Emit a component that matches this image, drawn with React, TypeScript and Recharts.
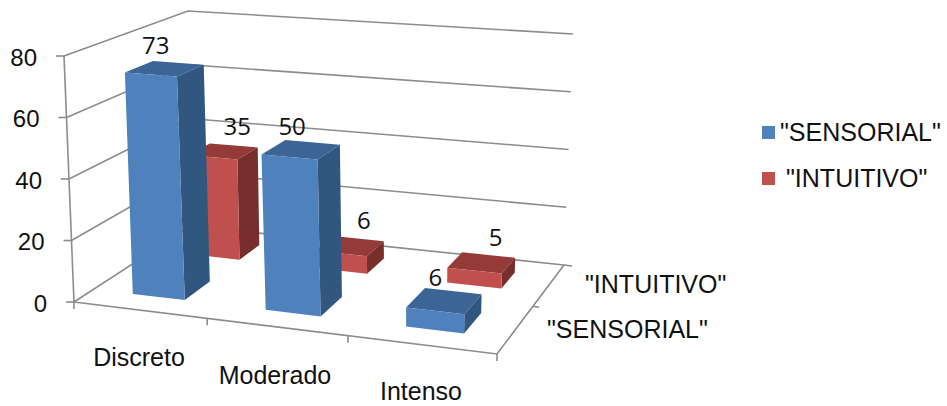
import React from "react";
import {
  Bar,
  BarChart,
  CartesianGrid,
  LabelList,
  Legend,
  XAxis,
  YAxis,
} from "recharts";

const categories = ["Discreto", "Moderado", "Intenso"];
const seriesNames = ['"SENSORIAL"', '"INTUITIVO"'];
const sensorialValues = [73, 50, 6];
const intuitivoValues = [35, 6, 5];
const valueTicks = [0, 20, 40, 60, 80];

const data = categories.map((name, i) => ({
  name,
  sensorial: sensorialValues[i],
  intuitivo: intuitivoValues[i],
}));

const WIDTH = 947;
const HEIGHT = 406;
const PLOT = { left: 74, right: 497, top: 56, bottom: 302 };
const PLOT_W = PLOT.right - PLOT.left;
const PLOT_H = PLOT.bottom - PLOT.top;
const FONT = '"Liberation Sans", Arial, sans-serif';
const AXIS_COLOR = "#8c8c8c";
const TEXT_COLOR = "#111";

type Pt = [number, number];

// square -> quad perspective map (front-left, front-right, back-right, back-left)
function quadMap([p0, p1, p2, p3]: Pt[]) {
  const dx1 = p1[0] - p2[0];
  const dx2 = p3[0] - p2[0];
  const sx = p0[0] - p1[0] + p2[0] - p3[0];
  const dy1 = p1[1] - p2[1];
  const dy2 = p3[1] - p2[1];
  const sy = p0[1] - p1[1] + p2[1] - p3[1];
  const den = dx1 * dy2 - dy1 * dx2;
  const g = (sx * dy2 - dx2 * sy) / den;
  const h = (dx1 * sy - sx * dy1) / den;
  const a = p1[0] - p0[0] + g * p1[0];
  const b = p3[0] - p0[0] + h * p3[0];
  const d = p1[1] - p0[1] + g * p1[1];
  const e = p3[1] - p0[1] + h * p3[1];
  return (u: number, v: number): Pt => {
    const w = g * u + h * v + 1;
    return [(a * u + b * v + p0[0]) / w, (d * u + e * v + p0[1]) / w];
  };
}

const floorMap = quadMap([[74, 302], [497, 354], [564, 265], [191, 226]]);
const ceilMap = quadMap([[64, 56], [505, 90], [573, 34], [188, 11]]);

// u along categories, v into the depth, t = value height as a share of the axis
function project(u: number, v: number, t: number): Pt {
  const f = floorMap(u, v);
  const c = ceilMap(u, v);
  return [f[0] + (c[0] - f[0]) * t, f[1] + (c[1] - f[1]) * t];
}

const toPath = (pts: Pt[], close = false) =>
  pts.map((p, i) => `${i ? "L" : "M"}${p[0].toFixed(1)} ${p[1].toFixed(1)}`).join(" ") + (close ? " Z" : "");

const blueFaces = { front: "#4f81bd", top: "#3c6596", side: "#315680" };
const redFaces = { front: "#c0504d", top: "#943b39", side: "#772f2d" };

const toU = (px: number) => (px - PLOT.left) / PLOT_W;

const makeBox = (faces: typeof blueFaces, v0: number, v1: number) => (props: any) => {
  const { x, width, height } = props;
  const u0 = toU(x);
  const u1 = toU(x + width);
  const t = height / PLOT_H;
  return (
    <g>
      <path d={toPath([project(u0, v0, t), project(u1, v0, t), project(u1, v1, t), project(u0, v1, t)], true)} fill={faces.top} />
      <path d={toPath([project(u1, v0, 0), project(u1, v1, 0), project(u1, v1, t), project(u1, v0, t)], true)} fill={faces.side} />
      <path d={toPath([project(u0, v0, 0), project(u1, v0, 0), project(u1, v0, t), project(u0, v0, t)], true)} fill={faces.front} />
    </g>
  );
};

const BLUE_DEPTH: Pt = [0.15, 0.37];
const RED_DEPTH: Pt = [0.65, 0.85];

const makeLabel = (depth: Pt, dx: number, dy: number) => (props: any) => {
  const box = props.viewBox ?? props;
  const um = toU(box.x + box.width / 2);
  const t = box.height / PLOT_H;
  const [cx, cy] = project(um, (depth[0] + depth[1]) / 2, t);
  return (
    <text x={cx + dx} y={cy + dy} textAnchor="middle" dominantBaseline="central" fontFamily='"Open Sans", sans-serif' fontSize={24} fill={TEXT_COLOR}>
      {props.value}
    </text>
  );
};

// wall lines for every value tick, plus the floor outline under the zero line
const WallLine = (props: any) => {
  const t = (PLOT.bottom - props.y1) / PLOT_H;
  const atZero = Math.abs(t) < 0.001;
  const end = project(1, 1, t);
  const mid = project(1, 0.5, 0);
  return (
    <g fill="none" stroke={AXIS_COLOR} strokeWidth={1.6}>
      <path d={toPath([project(0, 0, t), project(0, 1, t), end])} />
      {atZero && <path d={toPath([end, [end[0] + 8, end[1] + 1]])} />}
      {atZero && <path d={toPath([project(0, 0, 0), project(1, 0, 0), project(1, 1, 0)])} />}
      {atZero && <path d={toPath([mid, [mid[0] + 6, mid[1] + 1]])} />}
      {/* the value axis itself, drawn once from the floor to the top */}
      {atZero && <path d={toPath([project(0, 0, 0), project(0, 0, 1)])} />}
    </g>
  );
};

const ValueTick = (props: any) => {
  const { y, payload } = props;
  const t = (PLOT.bottom - y) / PLOT_H;
  const [fx, fy] = project(0, 0, t);
  return (
    <g>
      <line x1={fx - 8} y1={fy} x2={fx} y2={fy} stroke={AXIS_COLOR} strokeWidth={1.6} />
      <text x={fx - 27} y={fy + 1} textAnchor="end" dominantBaseline="central" fontFamily={FONT} fontSize={24} fill={TEXT_COLOR}>
        {payload.value}
      </text>
    </g>
  );
};

const labelNudge = [-5.5, -10.5, -5.5];
const labelY = [357, 375, 391];

const CategoryTick = (props: any) => {
  const { x, payload, index } = props;
  const [ex, ey] = project((index + 1) / categories.length, 0, 0);
  const [sx, sy] = project(0, 0, 0);
  return (
    <g>
      <line x1={ex} y1={ey} x2={ex} y2={ey + 7} stroke={AXIS_COLOR} strokeWidth={1.6} />
      {index === 0 && <line x1={sx} y1={sy} x2={sx} y2={sy + 7} stroke={AXIS_COLOR} strokeWidth={1.6} />}
      <text x={x + labelNudge[index]} y={labelY[index]} textAnchor="middle" dominantBaseline="central" fontFamily={FONT} fontSize={25} fill={TEXT_COLOR}>
        {payload.value}
      </text>
    </g>
  );
};

const legendRows = [
  { name: seriesNames[0], color: blueFaces.front, swatchTop: 126, textLeft: 780, textTop: 132 },
  { name: seriesNames[1], color: redFaces.front, swatchTop: 172, textLeft: 786, textTop: 178 },
];

const LegendBox = () => (
  <div style={{ position: "relative", width: WIDTH, height: 0 }}>
    {legendRows.map((row) => (
      <React.Fragment key={row.name}>
        <div style={{ position: "absolute", left: 762, top: row.swatchTop, width: 13, height: 13, background: row.color }} />
        <div style={{ position: "absolute", left: row.textLeft, top: row.textTop - 15, lineHeight: "30px", fontFamily: FONT, fontSize: 25, color: TEXT_COLOR, whiteSpace: "nowrap" }}>
          {row.name}
        </div>
      </React.Fragment>
    ))}
  </div>
);

export default function App() {
  return (
    <div style={{ position: "absolute", left: 0, top: 0, width: WIDTH, height: HEIGHT, background: "#fff" }}>
      <BarChart
        width={WIDTH}
        height={HEIGHT}
        data={data}
        barSize={56}
        barGap={-56}
        margin={{ top: PLOT.top, right: WIDTH - PLOT.right, bottom: HEIGHT - PLOT.bottom - 1, left: PLOT.left - 1 }}
      >
        <CartesianGrid horizontal={WallLine} vertical={false} />
        <XAxis dataKey="name" height={1} axisLine={false} tickLine={false} interval={0} tick={CategoryTick} />
        <YAxis width={1} domain={[0, 80]} ticks={valueTicks} axisLine={false} tickLine={false} interval={0} tick={ValueTick} />
        <Legend layout="vertical" align="center" verticalAlign="middle" wrapperStyle={{ left: 0, top: 0, width: WIDTH }} content={LegendBox} />
        {/* the back row goes first so the front row paints over it */}
        <Bar dataKey="intuitivo" name={seriesNames[1]} isAnimationActive={false} shape={makeBox(redFaces, RED_DEPTH[0], RED_DEPTH[1])}>
          <LabelList dataKey="intuitivo" content={makeLabel(RED_DEPTH, 14, -26)} />
        </Bar>
        <Bar dataKey="sensorial" name={seriesNames[0]} isAnimationActive={false} shape={makeBox(blueFaces, BLUE_DEPTH[0], BLUE_DEPTH[1])}>
          <LabelList dataKey="sensorial" content={makeLabel(BLUE_DEPTH, -9, -24)} />
        </Bar>
        <text x={585} y={284} dominantBaseline="central" fontFamily={FONT} fontSize={25} fill={TEXT_COLOR}>{seriesNames[1]}</text>
        <text x={547} y={329} dominantBaseline="central" fontFamily={FONT} fontSize={25} fill={TEXT_COLOR}>{seriesNames[0]}</text>
      </BarChart>
    </div>
  );
}
